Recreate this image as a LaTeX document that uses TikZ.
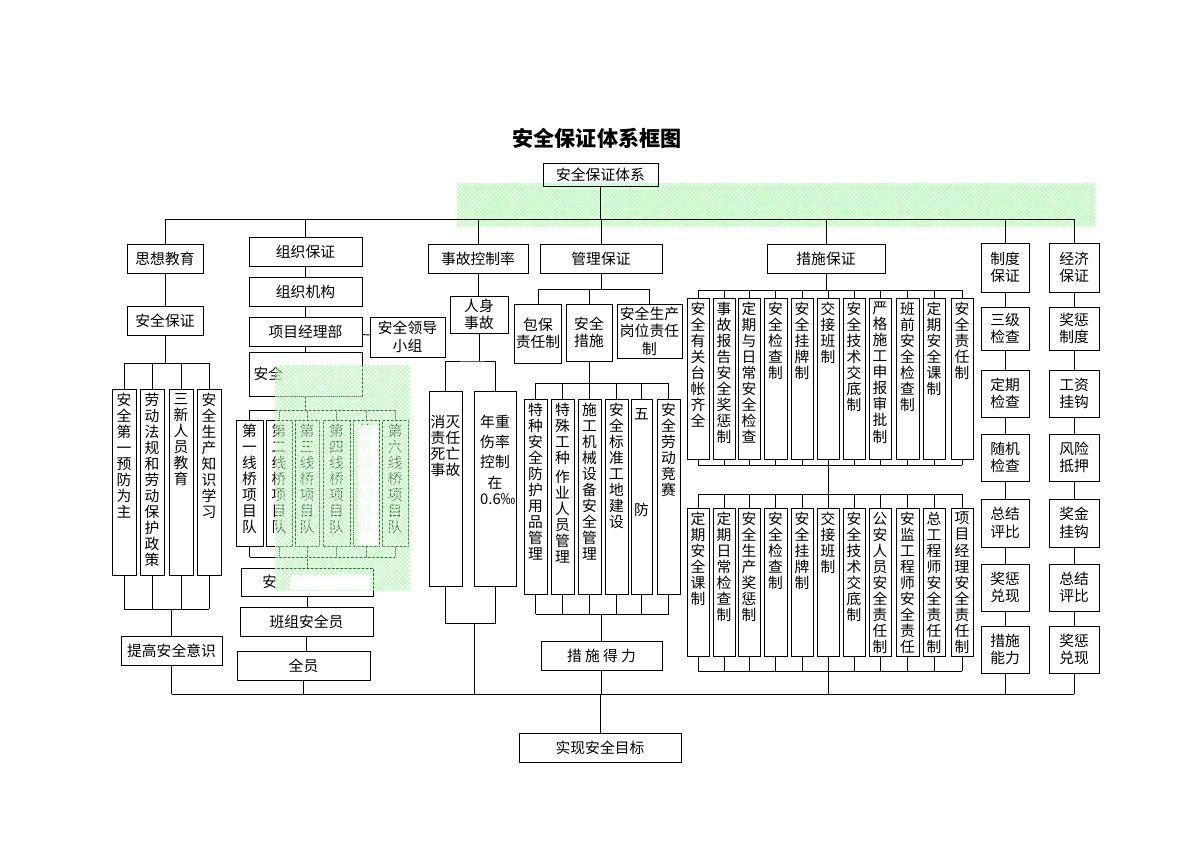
\documentclass[tikz,border=0pt]{standalone}
\usepackage{fontspec}
\setmainfont{Noto Sans CJK SC}
\XeTeXlinebreaklocale "zh"
\XeTeXlinebreakskip = 0pt plus 1pt
\usetikzlibrary{positioning,patterns}
\tikzset{%
	box/.style   = {draw, rectangle, line width=0.65pt, inner sep=1pt, align=center, font=\fontsize{10.5}{12.5}\selectfont},
	vcol/.style  = {draw, rectangle, line width=0.65pt, inner sep=0pt, font=\fontsize{10.5}{11.4}\selectfont},
	link/.style  = {line width=0.65pt},
	shade/.style = {pattern=crosshatch, pattern color=green!30},
}
% horizontal box: name, x1, y1, x2, y2, text
\newcommand\bx[6]{\node[box, minimum width={(#4-#2)*0.025cm}, minimum height={(#5-#3)*0.025cm}] (#1) at ({(#2+#4)/2},{(#3+#5)/2}) {#6};}
% vertical box: [text width], name, x1, y1, x2, y2, text
\newcommand\vb[7][1em]{\node[vcol, minimum width={(#5-#3)*0.025cm}, minimum height={(#6-#4)*0.025cm}] (#2) at ({(#3+#5)/2},{(#4+#6)/2}) {\parbox[c][\dimexpr(#6pt-#4pt)*7113/10000-6pt\relax][t]{#1}{\centering #7}};}

\begin{document}
\begin{tikzpicture}[x=0.025cm,y=-0.025cm]
	\useasboundingbox (0,0) rectangle (1200,849);
	\fill[green!8] (457,183) rectangle (1095,226);
	\fill[shade] (457,183) rectangle (1095,226);

	\node[font=\fontsize{15}{18}\selectfont\bfseries] (title) at (597,138) {安全保证体系框图};
	\bx{sys}{543}{163}{658}{186}{安全保证体系}

	% first level
	\bx{sx}{127}{244}{203}{273}{思想教育}
	\bx{zz}{249}{237}{362}{266}{组织保证}
	\bx{sg}{428}{244}{528}{273}{事故控制率}
	\bx{gl}{540}{244}{662}{273}{管理保证}
	\bx{csbz}{767}{244}{885}{273}{措施保证}
	\bx{zd0}{981}{243}{1029}{292}{制度\\保证}
	\bx{jj0}{1049}{243}{1099}{292}{经济\\保证}
	\coordinate (top) at (0,219);
	\draw[link] (sys.south) -- (sys.south |- top);
	\draw[link] (sx.north |- top) -- (jj0.north |- top);
	\foreach \n in {sx,zz,sg,gl,csbz,zd0,jj0}
		\draw[link] (\n.north) -- (\n.north |- top);

	% education
	\bx{aqbz}{127}{306}{203}{335}{安全保证}
	\vb{ja}{112}{389}{136}{575}{安全第一预防为主}
	\vb{jb}{140}{389}{164}{575}{劳动法规和劳动保护政策}
	\vb{jc}{169}{389}{193}{575}{三新人员教育}
	\vb{jd}{197}{389}{221}{575}{安全生产知识学习}
	\bx{tg}{121}{636}{222}{665}{提高安全意识}
	\coordinate (ja1) at (0,363);
	\coordinate (ja2) at (0,609);
	\draw[link] (sx) -- (aqbz);
	\draw[link] (aqbz.south) -- (aqbz.south |- ja1);
	\draw[link] (ja.north |- ja1) -- (jd.north |- ja1);
	\draw[link] (ja.south |- ja2) -- (jd.south |- ja2);
	\foreach \n in {ja,jb,jc,jd} {
		\draw[link] (\n.north) -- (\n.north |- ja1);
		\draw[link] (\n.south) -- (\n.south |- ja2);
	}
	\draw[link] (tg.north) -- (tg.north |- ja2);

	% organisation
	\bx{zj}{249}{277}{362}{306}{组织机构}
	\bx{xmjl}{249}{317}{362}{346}{项目经理部}
	\bx{ld}{370}{317}{445}{357}{安全领导\\小组}
	\bx{aq1}{249}{352}{362}{396}{}
	\node[right] (aq1t) at (aq1.west) {\fontsize{10.5}{12.5}\selectfont 安全};
	\foreach \n/\a/\b/\t in {q1/236/263/第一线桥项目队, q2/266/292/第二线桥项目队, q3/295/319/第三线桥项目队,
		q4/323/350/第四线桥项目队, q5/353/379/第五线桥项目队, q6/382/408/第六线桥项目队}
		\vb{\n}{\a}{420}{\b}{546}{\t};
	\bx{aq2}{241}{568}{373}{596}{}
	\node[right] (aq2t) at ([xshift=12pt]aq2.west) {\fontsize{10.5}{12.5}\selectfont 安};
	\bx{bz}{240}{607}{373}{636}{班组安全员}
	\bx{qy}{237}{651}{370}{680}{全员}
	\coordinate (q1a) at (0,410);
	\coordinate (q1b) at (0,557);
	\draw[link] (zz) -- (zj);
	\draw[link] (zj) -- (xmjl);
	\draw[link] (xmjl) -- (xmjl.south |- aq1.north);
	\draw[link] (xmjl) -- (ld);
	\draw[link] (aq1.south) -- (aq1.south |- q1a);
	\draw[link] (q1.north |- q1a) -- (q6.north |- q1a);
	\draw[link] (q1.south |- q1b) -- (q6.south |- q1b);
	\foreach \n in {q1,q2,q3,q4,q5,q6} {
		\draw[link] (\n.north) -- (\n.north |- q1a);
		\draw[link] (\n.south) -- (\n.south |- q1b);
	}
	\draw[link] (aq2.north) -- (aq2.north |- q1b);
	\draw[link] (aq2.south) -- (aq2.south |- bz.north);
	\draw[link] (bz.south) -- (bz.south |- qy.north);

	% accidents
	\bx{rs}{450}{296}{508}{333}{人身\\事故}
	\vb[2em]{mw}{429}{391}{462}{586}{\vspace*{14pt}消灭责任死亡事故}
	\vb[2em]{nz}{474}{391}{516}{586}{\vspace*{14pt}年重\\[3pt]伤率\\[3pt]控制\\[3pt]在\\0.6‰}
	\coordinate (rs1) at (474,361);
	\coordinate (rs2) at (474,623);
	\draw[link] (sg.south) -- (sg.south |- rs.north);
	\draw[link] (rs.south) -- (rs.south |- rs1);
	\draw[link] (mw.north) |- (rs1) -| (nz.north);
	\draw[link] (mw.south) |- (rs2) -| (nz.south);

	% management
	\bx{bb}{515}{304}{561}{363}{包保\\责任制}
	\bx{aqcs}{566}{304}{612}{361}{安全\\措施}
	\bx{gw}{617}{304}{682}{358}{安全生产\\岗位责任\\制}
	\coordinate (gl1) at (0,289);
	\draw[link] (gl.south) -- (gl.south |- gl1);
	\draw[link] (bb.north |- gl1) -- (gw.north |- gl1);
	\foreach \n in {bb,aqcs,gw}
		\draw[link] (\n.north) -- (\n.north |- gl1);
	\foreach \n/\a/\b/\t in {m1/524/547/特种安全防护用品管理, m2/551/574/特殊工种\\[2pt]作业人员管理,
		m3/578/601/施工机械设备安全管理, m4/605/628/安全标准工地建设,
		m5/631/652/\mbox{}\\五\\\mbox{}\\\mbox{}\\\mbox{}\\\mbox{}\\\mbox{}\\防, m6/657/680/安全劳动竞赛}
		\vb{\n}{\a}{399}{\b}{594}{\t};
	\bx{cd}{541}{641}{662}{670}{措\ 施\ 得\ 力}
	\coordinate (m0a) at (0,383);
	\coordinate (m0b) at (0,614);
	\draw[link] (aqcs.south) -- (aqcs.south |- m0a);
	\draw[link] (m1.north |- m0a) -- (m6.north |- m0a);
	\draw[link] (m1.south |- m0b) -- (m6.south |- m0b);
	\foreach \n in {m1,m2,m3,m4,m5,m6} {
		\draw[link] (\n.north) -- (\n.north |- m0a);
		\draw[link] (\n.south) -- (\n.south |- m0b);
	}
	\draw[link] (cd.north) -- (cd.north |- m0b);

	% measures
	\foreach \n/\a/\b/\t in {t1/687/709/安全有关台帐齐全, t2/713/735/事故报告安全奖惩制, t3/738/760/定期与日常安全检查,
		t4/764/787/安全检查制, t5/791/813/安全挂牌制, t6/817/839/交接班制, t7/843/865/安全技术交底制,
		t8/869/891/严格施工申报审批制, t9/896/919/班前安全检查制, t10/923/945/定期安全课制, t11/951/973/安全责任制}
		\vb{\n}{\a}{298}{\b}{459}{\t};
	\foreach \n/\a/\b/\t in {b1/687/709/定期安全课制, b2/713/735/定期日常检查制, b3/738/760/安全生产奖惩制,
		b4/764/787/安全检查制, b5/791/813/安全挂牌制, b6/817/839/交接班制, b7/843/865/安全技术交底制,
		b8/869/891/公安人员安全责任制, b9/896/919/安监工程师安全责任, b10/923/945/总工程师安全责任制, b11/951/973/项目经理安全责任制}
		\vb{\n}{\a}{508}{\b}{656}{\t};
	\coordinate (t0a) at (0,290);
	\coordinate (t0b) at (0,465);
	\coordinate (b0a) at (0,494);
	\coordinate (b0b) at (0,671);
	\draw[link] (csbz.south) -- (csbz.south |- t0a);
	\draw[link] (t1.north |- t0a) -- (t11.north |- t0a);
	\draw[link] (t1.south |- t0b) -- (t11.south |- t0b);
	\draw[link] (b1.north |- b0a) -- (b11.north |- b0a);
	\draw[link] (b1.south |- b0b) -- (b11.south |- b0b);
	\foreach \n in {1,...,11} {
		\draw[link] (t\n.north) -- (t\n.north |- t0a);
		\draw[link] (t\n.south) -- (t\n.south |- t0b);
		\draw[link] (b\n.north) -- (b\n.north |- b0a);
		\draw[link] (b\n.south) -- (b\n.south |- b0b);
	}
	\draw[link] (t6.south |- t0b) -- (t6.south |- b0a);

	% rules and economy
	\foreach \n/\a/\b/\t/\u in {1/307/350/三级\\检查/奖惩\\制度, 2/370/417/定期\\检查/工资\\挂钩,
		3/434/481/随机\\检查/风险\\抵押, 4/499/547/总结\\评比/奖金\\挂钩,
		5/564/611/奖惩\\兑现/总结\\评比, 6/626/673/措施\\能力/奖惩\\兑现} {
		\bx{zd\n}{981}{\a}{1029}{\b}{\t}
		\bx{jj\n}{1049}{\a}{1099}{\b}{\u}
	}
	\foreach \p/\n in {0/1,1/2,2/3,3/4,4/5,5/6} {
		\draw[link] (zd\p) -- (zd\n);
		\draw[link] (jj\p) -- (jj\n);
	}

	% goal
	\bx{goal}{519}{733}{681}{762}{实现安全目标}
	\coordinate (bot) at (0,694);
	\draw[link] (tg.south |- bot) -- (jj6.south |- bot);
	\foreach \n in {tg,qy,cd,zd6,jj6}
		\draw[link] (\n.south) -- (\n.south |- bot);
	\draw[link] (rs2) -- (rs2 |- bot);
	\draw[link] (t6.south |- b0b) -- (t6.south |- bot);
	\draw[link] (goal.north) -- (goal.north |- bot);

	% overlay
	\fill[green!8, fill opacity=0.35] (275,365) rectangle (410,590);
	\fill[shade, fill opacity=0.5] (275,365) rectangle (410,590);
	\fill[white, fill opacity=0.9] (358,425) rectangle (378,545);
	\fill[white, fill opacity=0.9] (290,575) rectangle (370,590);
\end{tikzpicture}
\end{document}
